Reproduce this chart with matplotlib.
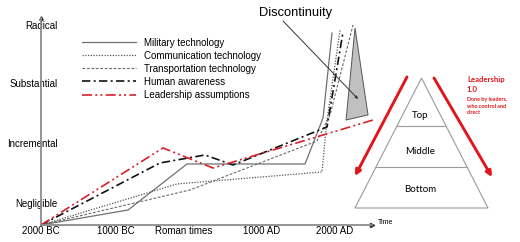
import matplotlib
matplotlib.use("Agg")
import matplotlib.pyplot as plt
from matplotlib.patches import Polygon

plt.rcParams['font.family'] = ['Liberation Sans', 'DejaVu Sans']

# ---- data (time index: 0 = 2000 BC ... 4 = 2000 AD; level: 1 = Negligible ... 4 = Radical)
tick_pos = [0.0, 1.02, 1.94, 3.0, 4.0]
tick_labels = ["2000 BC", "1000 BC", "Roman times", "1000 AD", "2000 AD"]
level_pos = [1, 2, 3, 3.97]
level_labels = ["Negligible", "Incremental", "Substantial", "Radical"]

mil_x = [0.0, 1.184, 1.986, 3.592, 3.837, 3.959]
mil_y = [0.633, 0.883, 1.65, 1.65, 2.417, 3.833]

com_x = [0.0, 1.85, 3.823, 3.891, 4.068]
com_y = [0.633, 1.317, 1.517, 2.383, 3.883]

tra_x = [0.0, 2.027, 3.755, 3.932, 4.245]
tra_y = [0.633, 1.217, 2.033, 2.467, 3.967]

hum_x = [0.0, 1.619, 2.231, 2.612, 3.891, 4.109]
hum_y = [0.633, 1.667, 1.80, 1.633, 2.267, 3.85]

lea_x = [0.0, 1.66, 2.34, 4.517]
lea_y = [0.633, 1.917, 1.583, 2.383]

disc_x = [4.272, 4.150, 4.449]
disc_y = [3.917, 2.383, 2.467]

# pyramid (x: 0..1 across base, y: 0 base .. 1 apex)
pyr_x = [0.0, 0.5, 1.0]
pyr_y = [0.0, 1.0, 0.0]
pyr_levels = [0.315, 0.631]
pyr_labels = ["Bottom", "Middle", "Top"]
pyr_label_y = [0.146, 0.431, 0.715]

W, H = 520, 242
fig = plt.figure(figsize=(W / 100, H / 100), dpi=100)

ax = fig.add_axes([41 / W, 17 / H, 331 / W, 207 / H])
ax.set_xlim(0, 4.503)
ax.set_ylim(0.633, 4.083)
for s in ["top", "right"]:
    ax.spines[s].set_visible(False)
for s in ["left", "bottom"]:
    ax.spines[s].set_color("#8c8c8c")
    ax.spines[s].set_linewidth(1.3)
ax.set_xticks(tick_pos)
ax.set_xticklabels(tick_labels, fontsize=7)
ax.set_yticks(level_pos)
ax.set_yticklabels(level_labels, fontsize=7)
ax.tick_params(axis="x", length=0, pad=0.5)
ax.tick_params(axis="y", length=0, pad=-12.2)
ax.patch.set_alpha(0)
# axis arrow ends
ax.plot([1], [0], marker=">", ms=3, color="#333333", transform=ax.transAxes, clip_on=False)
ax.plot([0], [1], marker="^", ms=2.5, color="#333333", transform=ax.transAxes, clip_on=False)
ax.text(1.04, 0.014, "Time", transform=ax.transAxes, fontsize=5, ha="center", va="center")

ax.fill(disc_x, disc_y, facecolor="#c0c0c0", edgecolor="#555555", lw=0.7, clip_on=False, zorder=2)

l1, = ax.plot(mil_x, mil_y, color="#707070", lw=0.9, ls="-", clip_on=False, label="Military technology")
l2, = ax.plot(com_x, com_y, color="#555555", lw=0.9, ls=(0, (1, 1.2)), clip_on=False, label="Communication technology")
l3, = ax.plot(tra_x, tra_y, color="#6a6a6a", lw=0.8, ls=(0, (2.5, 1.5)), clip_on=False, label="Transportation technology")
l4, = ax.plot(hum_x, hum_y, color="#111111", lw=1.2, ls=(0, (5, 2, 1.2, 2)), clip_on=False, label="Human awareness")
l5, = ax.plot(lea_x, lea_y, color="#d9202a", lw=1.2, ls=(0, (6, 2, 1.2, 1.8, 1.2, 2)), clip_on=False, label="Leadership assumptions")

leg = fig.legend(handles=[l1, l2, l3, l4, l5], loc="upper left",
                 bbox_to_anchor=(82 / W, 1 - 37.5 / H), frameon=False, fontsize=7,
                 handlelength=5.6, handletextpad=0.8, labelspacing=0.32,
                 borderpad=0, borderaxespad=0)

ax.text(3.469, 4.167, "Discontinuity", fontsize=9.3, ha="center", va="center")
ax.annotate("", xy=(4.313, 2.733), xytext=(3.293, 4.033),
            arrowprops=dict(arrowstyle="-|>", color="#333333", lw=0.7, mutation_scale=4,
                            shrinkA=0, shrinkB=0), annotation_clip=False)

# ---- pyramid panel
ax2 = fig.add_axes([355 / W, (242 - 208) / H, 133 / W, 130 / H])
ax2.set_xlim(0, 1)
ax2.set_ylim(0, 1)
ax2.axis("off")
ax2.add_patch(Polygon(list(zip(pyr_x, pyr_y)), closed=True, fill=False,
                      edgecolor="#9a9a9a", lw=0.8, clip_on=False))
for lv in pyr_levels:
    half = 0.5 * (1 - lv)
    ax2.plot([0.5 - half, 0.5 + half], [lv, lv], color="#9a9a9a", lw=0.8, clip_on=False)
for lab, ly in zip(pyr_labels, pyr_label_y):
    ax2.text(0.49, ly, lab, fontsize=7, family=["Lato", "DejaVu Sans"], ha="center", va="center")

red = "#e0161b"
ax2.annotate("", xy=(0.0, 0.246), xytext=(0.391, 1.008),
             arrowprops=dict(arrowstyle="-|>", color=red, lw=2.1, mutation_scale=8,
                             shrinkA=0, shrinkB=0), annotation_clip=False)
ax2.annotate("", xy=(1.03, 0.238), xytext=(0.594, 1.0),
             arrowprops=dict(arrowstyle="-|>", color=red, lw=2.1, mutation_scale=8,
                             shrinkA=0, shrinkB=0), annotation_clip=False)
fam = ["Lato", "DejaVu Sans"]
ax2.text(0.842, 0.992, "Leadership", color=red, fontsize=5.6, weight="bold", family=fam, va="center", ha="left")
ax2.text(0.842, 0.908, "1.0", color=red, fontsize=5.6, weight="bold", family=fam, va="center", ha="left")
ax2.text(0.842, 0.838, "Done by leaders,", color=red, fontsize=3.9, weight="bold", family=fam, va="center", ha="left")
ax2.text(0.842, 0.777, "who control and", color=red, fontsize=3.9, weight="bold", family=fam, va="center", ha="left")
ax2.text(0.842, 0.731, "direct", color=red, fontsize=3.9, weight="bold", family=fam, va="center", ha="left")

fig.savefig("out.png", dpi=100)
